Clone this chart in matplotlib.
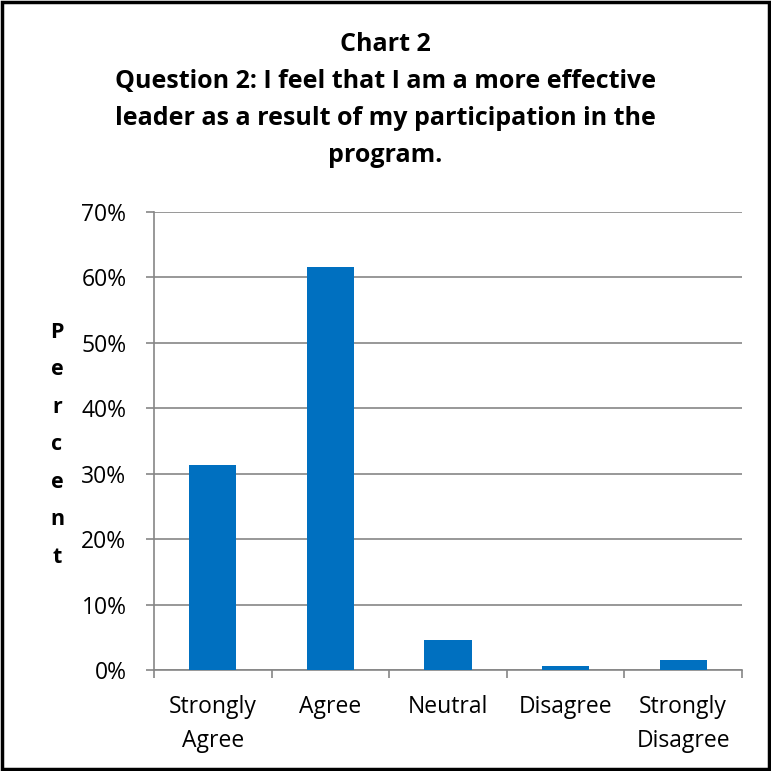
import matplotlib.pyplot as plt
import matplotlib.patches as mpatches
from matplotlib.ticker import FuncFormatter, FixedLocator

categories = ['Strongly\nAgree', 'Agree', 'Neutral', 'Disagree', 'Strongly\nDisagree']
percent = [31.4, 61.6, 4.6, 0.6, 1.6]
yticks = [0, 10, 20, 30, 40, 50, 60, 70]

plt.rcParams['font.family'] = ['Open Sans', 'DejaVu Sans']

fig = plt.figure(figsize=(7.71, 7.71), dpi=100)
ax = fig.add_axes([0.1997, 0.131, 0.7627, 0.594])

x = list(range(len(categories)))
ax.bar(x, percent, width=0.403, color='#0070C0', zorder=3)

ax.set_xlim(-0.5, len(categories) - 0.5)
ax.set_ylim(0, 70)
ax.set_yticks(yticks)
ax.yaxis.set_major_formatter(FuncFormatter(lambda v, p: f'{v:.0f}%'))
ax.grid(axis='y', color='#868686', linewidth=1.2, zorder=0)

# category labels in the middle, tick marks on the boundaries
ax.set_xticks(x)
ax.set_xticklabels(categories, fontsize=16.5, linespacing=1.55)
ax.tick_params(axis='x', which='major', length=0, pad=18)
ax.xaxis.set_minor_locator(FixedLocator([i - 0.5 for i in range(len(categories) + 1)]))
ax.tick_params(axis='x', which='minor', length=5.8, color='#868686', width=1.2)
ax.tick_params(axis='y', length=5.8, color='#868686', width=1.2, labelsize=16.5, pad=14)

for side in ['top', 'right']:
    ax.spines[side].set_visible(False)
for side in ['left', 'bottom']:
    ax.spines[side].set_color('#868686')
    ax.spines[side].set_linewidth(1.2)

fig.text(0.074, 0.423, 'P\ne\nr\nc\ne\nn\nt', ha='center', va='center',
         fontsize=15.5, fontweight='bold', linespacing=2.03)

fig.text(0.5, 0.958, 'Chart 2\nQuestion 2: I feel that I am a more effective\n'
         'leader as a result of my participation in the\nprogram.',
         ha='center', va='top', fontsize=18, fontweight='bold', linespacing=1.62)

fig.patches.append(mpatches.Rectangle((0.003, 0.003), 0.994, 0.994, transform=fig.transFigure,
                                      fill=False, edgecolor='black', linewidth=2.5))

fig.savefig('out.png', dpi=100)
